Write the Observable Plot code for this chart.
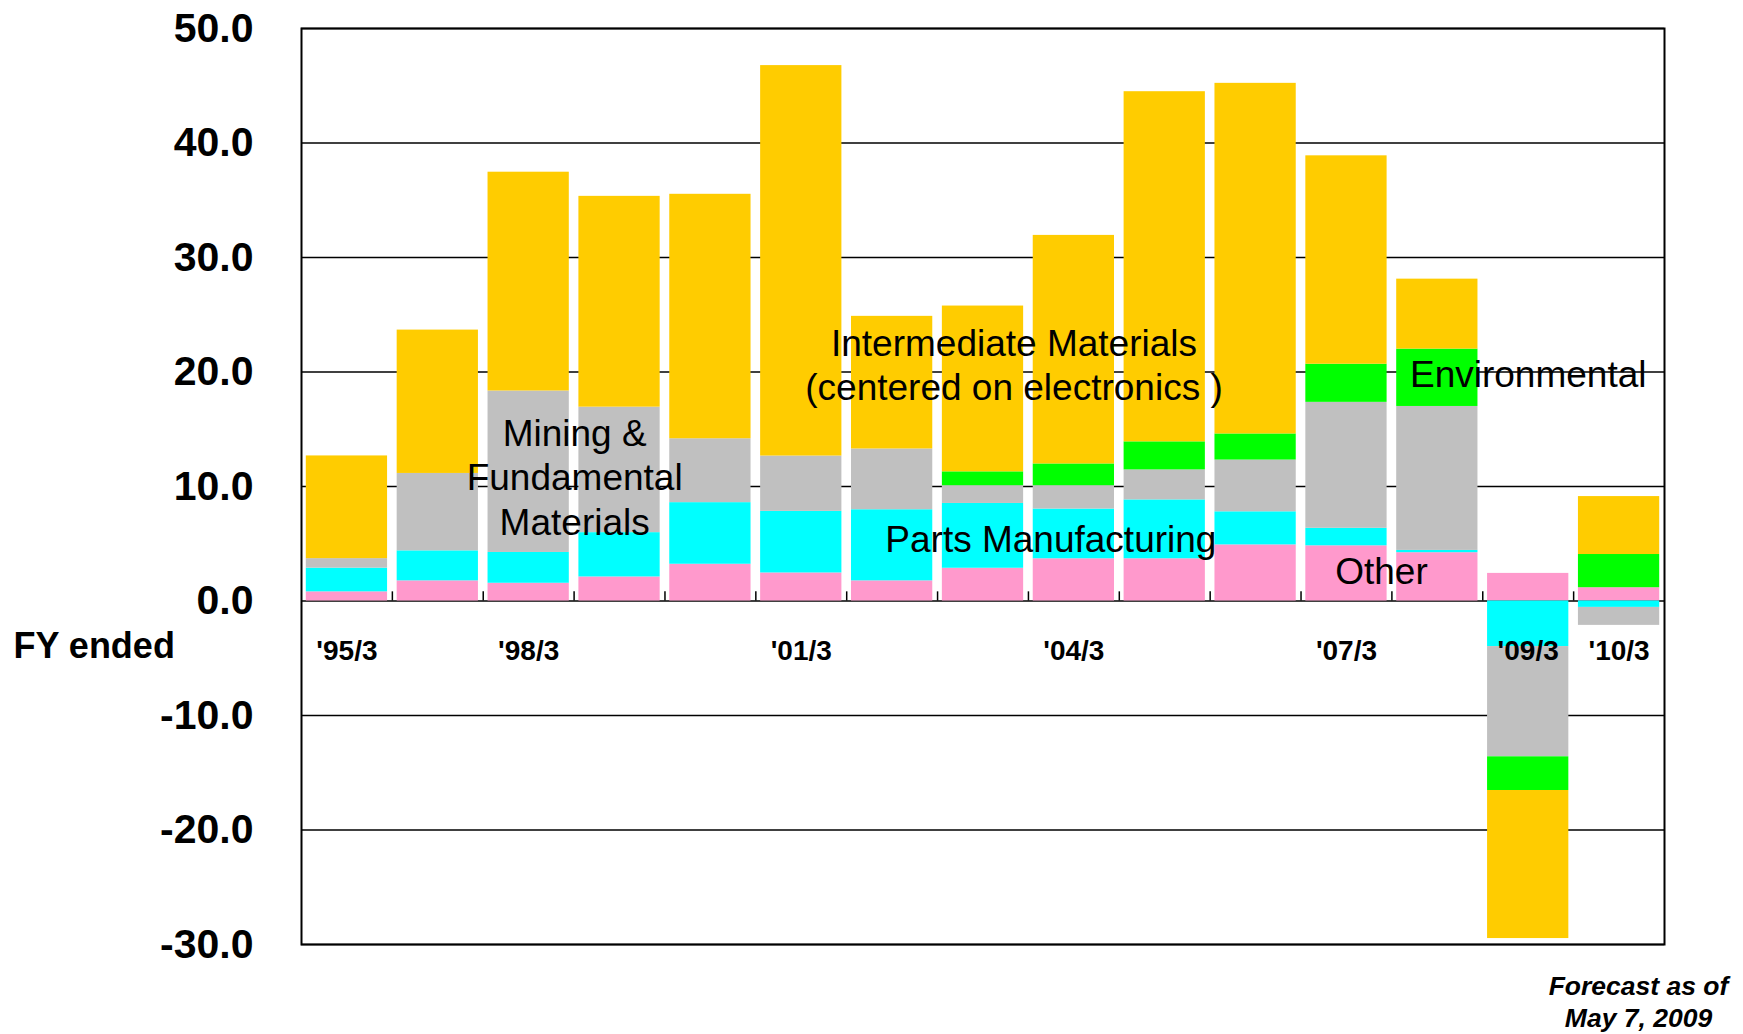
<!DOCTYPE html>
<html>
<head>
<meta charset="utf-8">
<script src="https://cdn.jsdelivr.net/npm/d3@7"></script>
<script src="https://cdn.jsdelivr.net/npm/@observablehq/plot@0.6"></script>
<style>
  html, body { margin: 0; padding: 0; background: #fff; }
  svg { display: block; }
</style>
</head>
<body>
<div id="chart"></div>
<script>
// Fiscal years (bars)
const years = ["'95/3","'97/3","'98/3","'99/3","'00/3","'01/3","'02/3","'03/3","'04/3","'05/3","'06/3","'07/3","'08/3","'09/3","'10/3"];
const shownYears = ["'95/3","'98/3","'01/3","'04/3","'07/3","'09/3","'10/3"];

// Segment values (stack order: bottom to top)
const other         = [0.80, 1.76, 1.55, 2.10, 3.21, 2.45, 1.76, 2.86, 3.69, 3.69, 4.90, 4.82, 4.22,  2.41,  1.16];
const parts         = [2.07, 2.62, 2.69, 3.87, 5.38, 5.38, 6.21, 5.66, 4.34, 5.14, 2.89, 1.53, 0.20, -3.98, -0.56];
const mining        = [0.83, 6.76, 14.10, 10.96, 5.58, 4.83, 5.31, 1.55, 2.04, 2.62, 4.52, 11.00, 12.57, -9.63, -1.57];
const environmental = [0, 0, 0, 0, 0, 0, 0, 1.21, 1.90, 2.45, 2.28, 3.33, 5.01, -2.94, 2.90];
const intermediate  = [8.97, 12.52, 19.11, 18.41, 21.35, 34.10, 11.58, 14.48, 19.96, 30.58, 30.62, 18.20, 6.11, -12.93, 5.06];

const seriesNames = ["Other", "Parts", "Mining", "Environmental", "Intermediate"];
const seriesColors = ["#FF99CC", "#00FFFF", "#C0C0C0", "#00FF00", "#FFCC00"];
const seriesValues = [other, parts, mining, environmental, intermediate];

const yTicks = [-30, -20, -10, 0, 10, 20, 30, 40, 50];

// Annotation labels
const annotations = [
  {text: "Mining &\nFundamental\nMaterials", year: "'98/3", y: 10.9, dx: 46},
  {text: "Intermediate Materials\n(centered on electronics )", year: "'03/3", y: 20.7, dx: 31},
  {text: "Parts Manufacturing", year: "'04/3", y: 5.5, dx: -23},
  {text: "Environmental", year: "'09/3", y: 19.9, dx: 0},
  {text: "Other", year: "'07/3", y: 2.7, dx: 35}
];

const data = [];
years.forEach((yr, i) => {
  seriesNames.forEach((s, j) => {
    data.push({year: yr, series: s, value: seriesValues[j][i]});
  });
});

const W = 1743, H = 1034;
const mL = 301, mR = 79, mT = 28, mB = 90;
const step = (W - mL - mR) / years.length;
const font = "'Liberation Sans', Arial, Helvetica, sans-serif";

const chart = Plot.plot({
  width: W,
  height: H,
  marginLeft: mL,
  marginRight: mR,
  marginTop: mT,
  marginBottom: mB,
  style: {fontFamily: font, background: "#fff", color: "#000"},
  x: {domain: years, padding: 0, round: false, axis: null},
  y: {domain: [-30, 50], axis: null},
  color: {domain: seriesNames, range: seriesColors},
  marks: [
    Plot.ruleY(yTicks, {stroke: "#000", strokeWidth: 1.5}),
    Plot.barY(data, {x: "year", y: "value", fill: "series", insetLeft: 4.8, insetRight: 4.8}),
    Plot.frame({stroke: "#000", strokeWidth: 2}),
    Plot.ruleX(years.slice(1), {x: d => d, y1: 0, y2: 0.8, dx: -step / 2, stroke: "#000", strokeWidth: 1.5}),
    // y tick labels
    Plot.text(yTicks, {
      y: d => d, frameAnchor: "left", text: d => d.toFixed(1),
      textAnchor: "end", dx: -48, fontSize: 41, fontWeight: "bold", fill: "#000"
    }),
    // x labels
    Plot.text(shownYears, {
      x: d => d, y: () => 0, text: d => d, dy: 50,
      fontSize: 28, fontWeight: "bold", fill: "#000"
    }),
    Plot.text(["FY ended"], {
      frameAnchor: "left", y: () => 0, dx: -288, dy: 45, textAnchor: "start",
      fontSize: 36, fontWeight: "bold", fill: "#000"
    }),
    // annotations
    ...annotations.map(a => Plot.text([a], {
      x: "year", y: "y", text: "text", dx: a.dx, fontSize: 37, lineHeight: 1.2, fill: "#000"
    })),
    // caption
    Plot.text(["Forecast as of\nMay 7, 2009"], {
      frameAnchor: "bottom-right", textAnchor: "middle", lineAnchor: "top",
      dx: -26, dy: 28, fontSize: 26.5, fontWeight: "bold", fontStyle: "italic",
      lineHeight: 1.2, fill: "#000"
    })
  ]
});

document.getElementById("chart").appendChild(chart);
</script>
</body>
</html>
